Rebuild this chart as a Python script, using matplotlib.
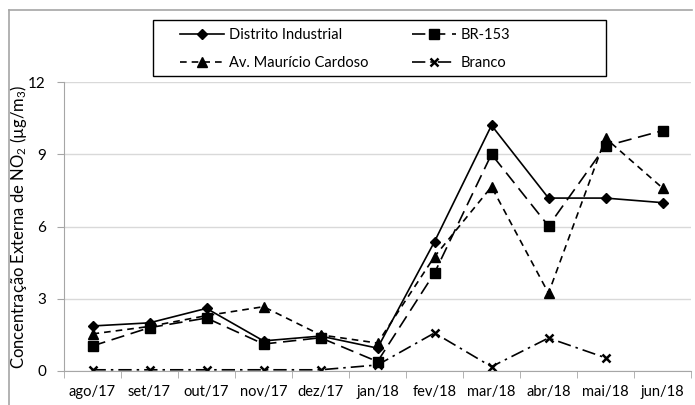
import matplotlib
matplotlib.use("Agg")
import matplotlib.pyplot as plt
from matplotlib.lines import Line2D
from matplotlib.patches import Rectangle
import numpy as np

plt.rcParams['font.family'] = ['Lato', 'DejaVu Sans']
plt.rcParams['mathtext.fontset'] = 'custom'
plt.rcParams['mathtext.rm'] = 'Lato'
plt.rcParams['mathtext.it'] = 'Lato:italic'

meses = ['ago/17', 'set/17', 'out/17', 'nov/17', 'dez/17', 'jan/18',
         'fev/18', 'mar/18', 'abr/18', 'mai/18', 'jun/18']
distrito = [1.87, 2.0, 2.6, 1.25, 1.45, 0.95, 5.37, 10.2, 7.18, 7.18, 6.99]
br153 = [1.04, 1.8, 2.2, 1.12, 1.38, 0.39, 4.07, 9.0, 6.02, 9.34, 9.98]
avenida = [1.54, 1.85, 2.3, 2.67, 1.5, 1.16, 4.75, 7.65, 3.23, 9.67, 7.6]
branco = [0.05, 0.05, 0.05, 0.05, 0.05, 0.25, 1.58, 0.18, 1.37, 0.55, np.nan]

fig = plt.figure(figsize=(6.95, 4.05), dpi=100)
ax = fig.add_axes([64/695, 34/405, 627/695, 289/405])

x = np.arange(len(meses))
ax.plot(x, distrito, color='black', lw=1.2, ls='-', marker='D', ms=5,
        label='Distrito Industrial')
ax.plot(x, br153, color='black', lw=1.2, ls=(0, (8, 4)), marker='s', ms=7,
        label='BR-153')
ax.plot(x, avenida, color='black', lw=1.2, ls=(0, (4, 3)), marker='^', ms=7,
        label='Av. Maurício Cardoso')
ax.plot(x, branco, color='black', lw=1.2, ls=(0, (8, 3, 1.5, 3)), marker='x',
        ms=6, mew=1.8, label='Branco')

ax.set_xlim(-0.5, 10.5)
ax.set_ylim(0, 12)
ax.set_yticks([0, 3, 6, 9, 12])
ax.set_xticks(x)
ax.set_xticklabels(meses)
ax.set_xticks(np.arange(-0.5, 11, 1), minor=True)
ax.tick_params(axis='x', which='major', length=0, pad=10, labelsize=10.5)
ax.tick_params(axis='x', which='minor', length=5, color='#a6a6a6', direction='out')
ax.tick_params(axis='y', length=5, color='#a6a6a6', labelsize=11, pad=8)
ax.yaxis.grid(True, color='#d9d9d9', lw=1)
ax.set_axisbelow(True)
for s in ['top', 'right']:
    ax.spines[s].set_visible(False)
for s in ['left', 'bottom']:
    ax.spines[s].set_color('#a6a6a6')
ax.set_ylabel('Concentração Externa de NO$_2$ (µg/m$_3$)', fontsize=12)
ax.yaxis.set_label_coords(-0.056, 0.5)

handles, labels = ax.get_legend_handles_labels()
order = [0, 2, 1, 3]
leg = fig.legend([handles[i] for i in order], [labels[i] for i in order],
                 ncol=2, loc='upper left', bbox_to_anchor=(174/695, 1 - 22/405),
                 borderaxespad=0, frameon=False, fontsize=10.5,
                 handlelength=3.0, handletextpad=0.35, columnspacing=3.0,
                 labelspacing=1.0)
fig.add_artist(Rectangle((153/695, 1 - 76/405), 453/695, 56/405, fill=False,
                         edgecolor='black', lw=1, transform=fig.transFigure))

# outer chart border
fig.add_artist(Line2D([9/695, 9/695], [0, 1 - 10/405], color='#a6a6a6', lw=1.2,
                      transform=fig.transFigure))
fig.add_artist(Line2D([9/695, 692/695], [1 - 10/405, 1 - 10/405], color='#a6a6a6',
                      lw=1.2, transform=fig.transFigure))

fig.savefig('out.png', dpi=100)
